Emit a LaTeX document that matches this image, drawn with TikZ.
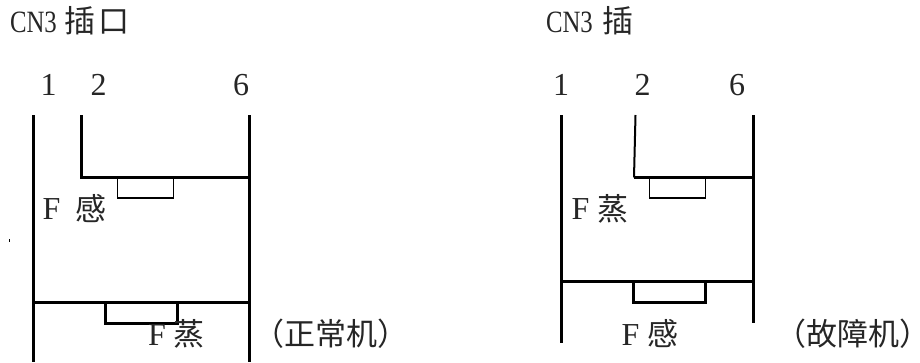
\documentclass[tikz,border=0pt]{standalone}
\usepackage{fontspec}
\setmainfont{Liberation Serif}
\newfontfamily\cjkfont{Noto Sans CJK SC}
\newfontfamily\cjkhalt[RawFeature=+halt]{Noto Sans CJK SC}
\newfontfamily\narrowlatin[FakeStretch=0.8]{Liberation Serif}
\newcommand{\cnt}[1]{{\cjkfont\fontsize{31}{31}\selectfont #1}}
\newcommand{\lat}[1]{{\fontsize{32}{32}\selectfont #1}}
\newcommand{\ttl}[2]{\makebox[#1][l]{\narrowlatin\fontsize{31}{31}\selectfont CN3}\cnt{#2}}
\tikzset{
  wire/.style={line width=3pt,line cap=butt,line join=miter},
  thinwire/.style={line width=1.8pt,line join=miter},
  label/.style={inner sep=0pt,outer sep=0pt,anchor=base west,text=black!85},
}
\begin{document}
\begin{tikzpicture}[x=1pt,y=-1pt]
\useasboundingbox (0,0) rectangle (920,362);
% left unit
\node[label] (lt) at (10,32) {\ttl{54.5pt}{插\hspace{3.5pt}口}};
\node[label] (l1) at (40.5,95.5) {\lat{1}};
\node[label] (l2) at (90.5,95.5) {\lat{2}};
\node[label] (l6) at (233,95.5) {\lat{6}};
\coordinate (a1t) at (33.5,115); \coordinate (a1b) at (33.5,362);
\coordinate (a2t) at (81.5,115); \coordinate (a2b) at (81.5,177.5);
\coordinate (a6t) at (249.5,115); \coordinate (a6b) at (249.5,362);
\draw[wire] (a1t) -- (a1b);
\draw[wire] (a6t) -- (a6b);
\draw[wire] (a2t) -- (a2b) -- (a6b |- a2b);
\draw[thinwire] (117.5,177.5) -- (117.5,198) -- (173.5,198) -- (173.5,177.5);
\coordinate (a3) at (33.5,302);
\draw[wire] (a3) -- (a6b |- a3);
\draw[wire] (105,302) -- (105,323) -- (177,323) -- (177,302);
\node[label] (lf) at (42.5,219) {\lat{F}};
\node[label] (lg) at (75.5,220) {\cnt{感}};
\node[label] (lf2) at (148,345) {\lat{F}};
\node[label] (lz) at (173.5,345) {\cnt{蒸}};
\node[label] (ln) at (253,345) {\cnt{（正常机）}};
\draw[line width=0.8pt] (9.3,239) -- (9.3,242);
% right unit
\node[label] (rt) at (546,32) {\ttl{56pt}{插}};
\node[label] (r1) at (553,95.5) {\lat{1}};
\node[label] (r2) at (634.5,95.5) {\lat{2}};
\node[label] (r6) at (729,95.5) {\lat{6}};
\coordinate (b1t) at (561,115); \coordinate (b1b) at (561,343);
\coordinate (b2t) at (635.5,115); \coordinate (b2b) at (634,177.5);
\coordinate (b6t) at (753,115); \coordinate (b6b) at (753,323);
\draw[wire] (b1t) -- (b1b);
\draw[wire] (b6t) -- (b6b);
\draw[line width=2pt] (b2t) -- (b2b);
\draw[wire] (b2b) -- (b6b |- b2b);
\draw[thinwire] (649.5,177.5) -- (649.5,198) -- (705.5,198) -- (705.5,177.5);
\coordinate (b3) at (561,281);
\draw[wire] (b3) -- (b6b |- b3);
\draw[wire] (633.5,281) -- (633.5,302) -- (705,302) -- (705,281);
\node[label] (rf) at (571.5,219) {\lat{F}};
\node[label] (rz) at (597.5,220) {\cnt{蒸}};
\node[label] (rf2) at (621.5,345) {\lat{F}};
\node[label] (rg) at (647,345) {\cnt{感}};
\node[label] (rn) at (775.5,345) {\cnt{（故障机}{\cjkhalt\fontsize{31}{31}\selectfont ）}};
\end{tikzpicture}
\end{document}
